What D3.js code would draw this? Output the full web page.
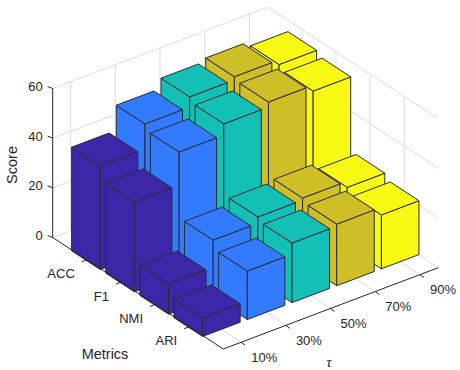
<!DOCTYPE html>
<html>
<head>
<meta charset="utf-8">
<script src="https://cdn.jsdelivr.net/npm/d3@7"></script>
<style>
  html, body { margin: 0; padding: 0; background: #fff; }
  svg { display: block; }
  text { font-family: "Liberation Sans", Arial, sans-serif; font-size: 13px; fill: #262626; }
</style>
</head>
<body>
<div id="chart"></div>
<script>
// values
const metrics = ["ACC", "F1", "NMI", "ARI"];
const taus = ["10%", "30%", "50%", "70%", "90%"];
const zTicks = [0, 20, 40, 60];
const acc = [41.7, 51.8, 55.9, 57.2, 55.3];
const f1 = [36.2, 49.5, 54, 56, 53.6];
const nmi = [12.1, 23, 25.5, 26.3, 23.8];
const ari = [7.4, 19.5, 24, 24.8, 21.7];
const scores = [acc, f1, nmi, ari];
const colors = ["#3e26a8", "#327bff", "#13c0b6", "#cdbf25", "#f9fa13"];

const width = 460, height = 370;
const barW = 0.84;

const svg = d3.select("#chart").append("svg")
  .attr("width", width)
  .attr("height", height);

// the three axes of the 3d box, every one is a scale to pixels
const xDomain = [0.6, 5.41];
const yDomain = [0, 5];
const xToPx = d3.scaleLinear().domain(xDomain).range([0, 215]);
const xToPy = d3.scaleLinear().domain(xDomain).range([0, -81.3]);
const yToPx = d3.scaleLinear().domain(yDomain).range([52.7, 223.3]);
const yToPy = d3.scaleLinear().domain(yDomain).range([237.5, 349]);
const zToPy = d3.scaleLinear().domain([0, 60]).range([0, -149]);

function project(x, y, z) {
  return [xToPx(x) + yToPx(y), xToPy(x) + yToPy(y) + zToPy(z)];
}

const line = d3.line();
function poly(pts) {
  return line(pts.map(p => project(p[0], p[1], p[2]))) + "Z";
}

const grid = svg.append("g")
  .attr("fill", "none")
  .attr("stroke", "#dcdcdc")
  .attr("stroke-width", 1);

function gridLine(a, b) {
  grid.append("path").attr("d", line([project(...a), project(...b)]));
}

const [x0, x1] = xDomain;
const [y0, y1] = yDomain;
const zMax = zTicks[zTicks.length - 1];

zTicks.forEach(z => {
  gridLine([x0, y0, z], [x1, y0, z]);
  gridLine([x1, y0, z], [x1, y1, z]);
});
taus.forEach((t, i) => {
  gridLine([i + 1, y0, 0], [i + 1, y0, zMax]);
  gridLine([i + 1, y0, 0], [i + 1, y1, 0]);
});
metrics.forEach((m, j) => {
  gridLine([x1, j + 1, 0], [x1, j + 1, zMax]);
  gridLine([x0, j + 1, 0], [x1, j + 1, 0]);
});

// bars, far ones first
const bars = [];
metrics.forEach((m, j) => {
  taus.forEach((t, i) => {
    bars.push({ i: i, j: j, v: scores[j][i] });
  });
});
bars.sort((a, b) => (a.j - b.j) || (b.i - a.i));

const barG = svg.selectAll("g.bar")
  .data(bars)
  .join("g")
  .attr("class", "bar")
  .attr("fill", d => colors[d.i])
  .attr("stroke", "#2a2a33")
  .attr("stroke-width", 1)
  .attr("stroke-linejoin", "round");

function faces(d) {
  const xa = d.i + 1 - barW / 2, xb = d.i + 1 + barW / 2;
  const ya = d.j + 1 - barW / 2, yb = d.j + 1 + barW / 2;
  const v = d.v;
  return [
    [[xa, ya, 0], [xa, yb, 0], [xa, yb, v], [xa, ya, v]],
    [[xa, yb, 0], [xb, yb, 0], [xb, yb, v], [xa, yb, v]],
    [[xa, ya, v], [xa, yb, v], [xb, yb, v], [xb, ya, v]]
  ];
}

barG.selectAll("path")
  .data(d => faces(d))
  .join("path")
  .attr("d", poly);

// axis lines
const axes = svg.append("g")
  .attr("fill", "none")
  .attr("stroke", "#262626")
  .attr("stroke-width", 1);

axes.append("path").attr("d", line([project(x0, y0, 0), project(x0, y0, zMax)]));
axes.append("path").attr("d", line([project(x0, y0, 0), project(x0, y1, 0)]));
axes.append("path").attr("d", line([project(x0, y1, 0), project(x1, y1, 0)]));

// ticks
zTicks.forEach(z => {
  const p = project(x0, y0, z);
  axes.append("path").attr("d", line([p, [p[0] - 5, p[1] - 2]]));
  svg.append("text")
    .attr("x", p[0] - 10)
    .attr("y", p[1] - 1)
    .attr("text-anchor", "end")
    .attr("dominant-baseline", "middle")
    .text(z);
});

metrics.forEach((m, j) => {
  const p = project(x0, j + 1, 0);
  axes.append("path").attr("d", line([p, [p[0] - 5, p[1] + 2]]));
  svg.append("text")
    .attr("x", p[0] - 12)
    .attr("y", p[1] + 15)
    .attr("text-anchor", "end")
    .attr("dominant-baseline", "middle")
    .text(m);
});

taus.forEach((t, i) => {
  const p = project(i + 1, y1, 0);
  axes.append("path").attr("d", line([p, [p[0] + 4, p[1] + 3]]));
  svg.append("text")
    .attr("x", p[0] + 10)
    .attr("y", p[1] + 16)
    .attr("dominant-baseline", "middle")
    .text(t);
});

svg.append("text")
  .attr("transform", "translate(17,165) rotate(-90)")
  .attr("text-anchor", "middle")
  .style("font-size", "14.5px")
  .text("Score");

svg.append("text")
  .attr("x", 105)
  .attr("y", 359)
  .attr("text-anchor", "middle")
  .style("font-size", "14.5px")
  .text("Metrics");

svg.append("text")
  .attr("x", 329)
  .attr("y", 367)
  .attr("text-anchor", "middle")
  .style("font-family", "'Liberation Serif', serif")
  .style("font-style", "italic")
  .style("font-size", "15px")
  .text("τ");
</script>
</body>
</html>
